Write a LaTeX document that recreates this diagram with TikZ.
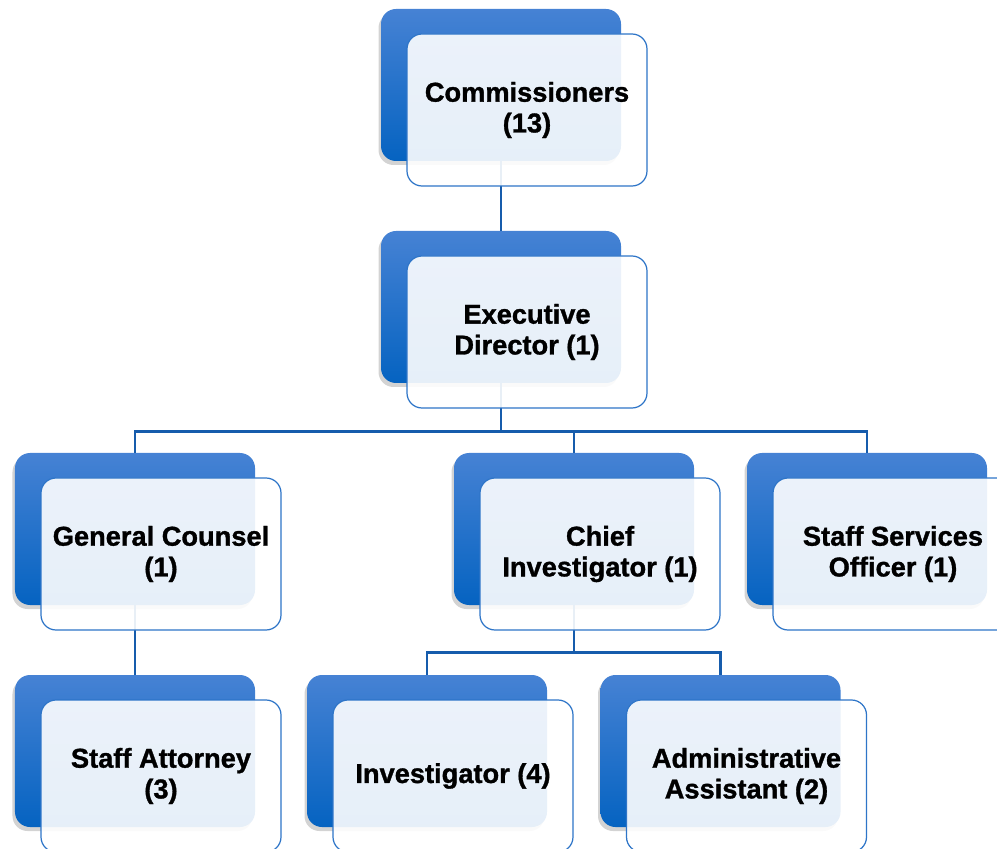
\documentclass[tikz,border=0pt]{standalone}
\usepackage{fontspec}
\setmainfont[BoldFeatures={FakeBold=1.2}]{Liberation Sans}
\usepackage{xcolor}
\usepackage{tikz}
\usetikzlibrary{shadows}

\definecolor{boxtop}{RGB}{70,130,212}
\definecolor{boxbot}{RGB}{5,99,193}
\definecolor{edgeblue}{RGB}{46,117,200}
\definecolor{linkblue}{RGB}{22,92,172}

\tikzset{
  unitback/.style={rectangle, rounded corners=0.3cm, minimum width=4.8cm,
    minimum height=3.04cm, top color=boxtop, bottom color=boxbot, draw=none,
    drop shadow={shadow xshift=-0.05cm, shadow yshift=-0.08cm, opacity=0.35}},
  unitfront/.style={rectangle, rounded corners=0.3cm, minimum width=4.8cm,
    minimum height=3.04cm, draw=edgeblue, line width=0.7pt, fill=white,
    fill opacity=0.9, text opacity=1, align=center,
    font=\fontsize{15.5}{17.5}\selectfont\bfseries, xshift=0.52cm, yshift=-0.5cm},
  link/.style={draw=linkblue, line width=1.4pt}
}

\begin{document}
\begin{tikzpicture}
\useasboundingbox (0,0) rectangle (19.94,-16.98);
% back boxes
\node[unitback] (commB) at (10.02,-1.70) {};
\node[unitback] (execB) at (10.02,-6.14) {};
\node[unitback] (gcB) at (2.70,-10.58) {};
\node[unitback] (ciB) at (11.48,-10.58) {};
\node[unitback] (ssB) at (17.34,-10.58) {};
\node[unitback] (saB) at (2.70,-15.02) {};
\node[unitback] (invB) at (8.54,-15.02) {};
\node[unitback] (aaB) at (14.41,-15.02) {};
% lines
\draw[link] (commB.south) -- (execB.north);
\draw[link] (execB.south) -- ++(0,-0.96) coordinate (busA);
\draw[link] (gcB.north) |- (busA) -| (ssB.north);
\draw[link] (busA) -| (ciB.north);
\draw[link] (gcB.south) -- (saB.north);
\draw[link] (ciB.south) -- ++(0,-0.94) coordinate (busB);
\draw[link] (invB.north) |- (busB) -| (aaB.north);
% front boxes
\node[unitfront] (comm) at (commB) {Commissioners\\(13)};
\node[unitfront] (exec) at (execB) {Executive\\Director (1)};
\node[unitfront] (gc) at (gcB) {General Counsel\\(1)};
\node[unitfront] (ci) at (ciB) {Chief\\Investigator (1)};
\node[unitfront] (ss) at (ssB) {Staff Services\\Officer (1)};
\node[unitfront] (sa) at (saB) {Staff Attorney\\(3)};
\node[unitfront] (inv) at (invB) {Investigator (4)};
\node[unitfront] (aa) at (aaB) {Administrative\\Assistant (2)};
\end{tikzpicture}
\end{document}
